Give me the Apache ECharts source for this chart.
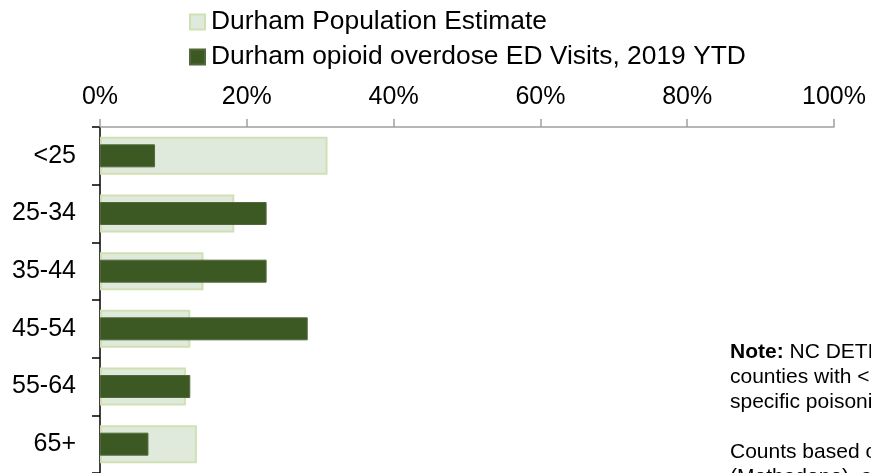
<!DOCTYPE html>
<html>
<head>
<meta charset="utf-8">
<script src="https://cdn.jsdelivr.net/npm/echarts@6/dist/echarts.min.js"></script>
<style>
html,body{margin:0;padding:0;background:#fff;}
#chart{width:871px;height:473px;}
</style>
</head>
<body>
<div id="chart"></div>
<script>
var categories = ['<25', '25-34', '35-44', '45-54', '55-64', '65+'];
var populationEstimate = [31.0, 18.3, 14.1, 12.3, 11.7, 13.2];
var edVisits = [7.5, 22.7, 22.7, 28.3, 12.3, 6.6];
var xTicks = [0, 20, 40, 60, 80, 100];
var seriesNames = ['Durham Population Estimate', 'Durham opioid overdose ED Visits, 2019 YTD'];
var noteLines = [
  '{b|Note:} NC DETECT does not report data for',
  'counties with <10 visits for drug-',
  'specific poisonings.',
  '',
  'Counts based on ICD-10-CM codes T40.3',
  '(Methadone), and others.'
];

var FONT = 'Liberation Sans, Arial, sans-serif';
var chart = echarts.init(document.getElementById('chart'));
chart.setOption({
  animation: false,
  backgroundColor: '#ffffff',
  textStyle: { fontFamily: FONT },
  title: {
    text: noteLines.join('\n'),
    left: 730,
    top: 340,
    padding: 0,
    textStyle: {
      fontFamily: FONT,
      fontSize: 21,
      fontWeight: 'normal',
      color: '#000',
      lineHeight: 25,
      rich: {
        b: { fontFamily: FONT, fontSize: 21, fontWeight: 'bold', color: '#000', lineHeight: 25 }
      }
    }
  },
  legend: {
    orient: 'vertical',
    left: 189,
    top: 9,
    padding: 0,
    itemWidth: 15,
    itemHeight: 15,
    itemGap: 9,
    icon: 'rect',
    data: seriesNames,
    textStyle: { fontFamily: FONT, fontSize: 26.4, color: '#000', padding: [0, 0, 0, 1], lineHeight: 26 }
  },
  grid: { left: 100, right: 37, top: 127, height: 350, containLabel: false },
  xAxis: {
    type: 'value',
    position: 'top',
    min: 0,
    max: 100,
    interval: 20,
    axisLine: { show: true, lineStyle: { color: '#a0a0a0', width: 1.5 } },
    axisTick: { show: true, inside: false, length: 8, lineStyle: { color: '#a0a0a0', width: 1.5 } },
    splitLine: { show: false },
    axisLabel: {
      margin: 17,
      fontFamily: FONT,
      fontSize: 25,
      color: '#000',
      formatter: function (v) { return xTicks.indexOf(v) >= 0 ? v + '%' : ''; }
    }
  },
  yAxis: [
    {
      type: 'category',
      inverse: true,
      data: categories,
      axisLine: { show: true, lineStyle: { color: '#000', width: 1.5 } },
      axisTick: { show: true, length: 8, lineStyle: { color: '#000', width: 1.5 } },
      axisLabel: { margin: 24, fontFamily: FONT, fontSize: 25, color: '#000' }
    },
    {
      type: 'category',
      inverse: true,
      data: categories,
      position: 'left',
      show: false
    }
  ],
  series: [
    {
      name: seriesNames[0],
      type: 'bar',
      yAxisIndex: 0,
      data: populationEstimate,
      barWidth: 38,
      itemStyle: { color: '#e0eadc', borderColor: '#d1e0b2', borderWidth: 2 },
      z: 2
    },
    {
      name: seriesNames[1],
      type: 'bar',
      yAxisIndex: 1,
      data: edVisits,
      barWidth: 23,
      itemStyle: { color: '#3d5923', borderColor: '#51693a', borderWidth: 1 },
      z: 3
    }
  ]
});
</script>
</body>
</html>
